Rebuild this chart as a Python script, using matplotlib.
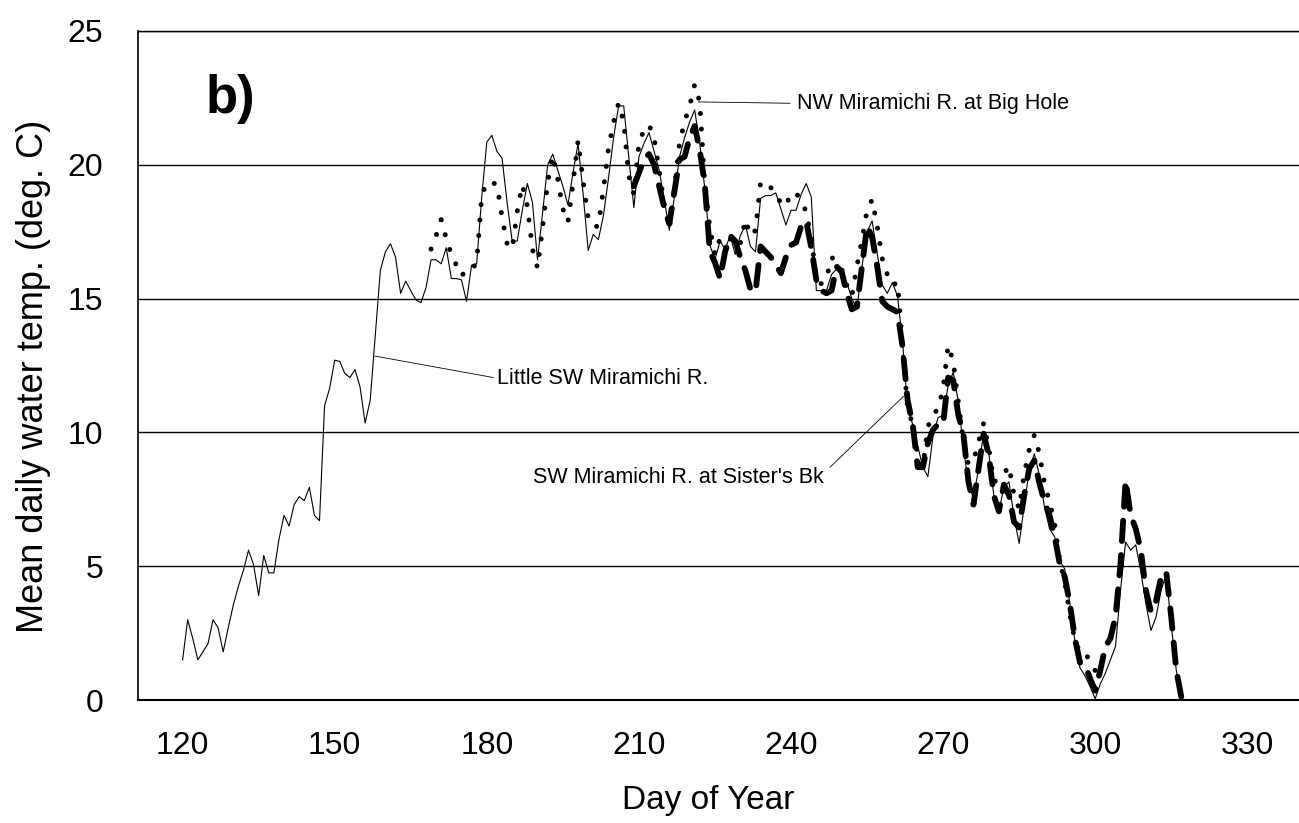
import numpy as np
import matplotlib.pyplot as plt

plt.rcParams['font.family'] = ['Liberation Sans', 'DejaVu Sans']

# ---------------------------
# daily mean water temperature (deg C)
# ---------------------------

# Little SW Miramichi R., days 120-317
little_sw_start = 120
little_sw = [
    1.5, 3.0, 2.3, 1.5, 1.8, 2.1, 3.0, 2.7, 1.8, 2.7,
    3.55, 4.25, 4.85, 5.6, 5.05, 3.9, 5.4, 4.75, 4.75, 6.0,
    6.9, 6.5, 7.3, 7.6, 7.45, 7.95, 6.9, 6.7, 11.0, 11.65,
    12.7, 12.65, 12.2, 12.05, 12.35, 11.7, 10.35, 11.2, 13.6, 16.05,
    16.75, 17.05, 16.55, 15.2, 15.65, 15.3, 14.95, 14.85, 15.4, 16.45,
    16.45, 16.3, 16.9, 15.75, 15.75, 15.7, 14.9, 16.25, 16.3, 18.8,
    20.85, 21.1, 20.5, 20.25, 18.6, 17.15, 17.15, 18.3, 19.3, 18.6,
    16.45, 18.2, 20.0, 20.4, 19.8, 19.2, 18.5, 19.7, 20.8, 18.9,
    16.8, 17.4, 17.2, 18.1, 19.5, 21.0, 22.2, 22.2, 20.3, 18.4,
    20.3, 20.8, 21.2, 20.5, 19.8, 18.7, 17.55, 18.8, 20.3, 21.0,
    21.6, 22.05, 20.8, 19.1, 17.0, 16.45, 17.15, 16.85, 17.35, 16.65,
    17.35, 17.75, 16.95, 16.75, 18.75, 18.85, 18.85, 18.95, 18.35, 17.75,
    18.3, 18.3, 18.9, 19.3, 18.8, 15.3, 15.3, 15.3, 15.9, 16.1,
    15.9, 15.6, 15.0, 14.6, 16.2, 17.5, 17.9, 16.7, 15.5, 15.2,
    15.6, 15.1, 13.4, 10.9, 10.3, 9.5, 8.7, 8.35, 9.85, 10.55,
    10.65, 11.75, 12.25, 11.15, 9.45, 8.05, 7.55, 8.65, 10.0, 9.25,
    7.65, 7.05, 7.95, 8.15, 6.85, 5.85, 7.25, 8.6, 9.2, 8.4,
    7.2, 6.4, 6.1, 5.2, 4.9, 3.6, 2.2, 1.2, 0.9, 0.5,
    0.05, 0.6, 1.0, 1.5, 2.0, 4.1, 5.9, 5.6, 5.8, 4.8,
    3.6, 2.6, 3.1, 4.1, 4.7, 2.8, 1.1, 0.1,
]

# NW Miramichi R. at Big Hole, days 169-300
nw_start = 169
nw_big_hole = [
    16.85, 17.35, 17.95, 17.25, 16.65, 16.25, 15.85, 16.05, 16.05, 16.35,
    18.85, 19.35, 19.35, 19.25, 18.05, 17.05, 16.85, 18.25, 19.25, 18.45,
    16.85, 16.15, 17.65, 19.35, 20.35, 19.45, 18.35, 17.85, 19.3, 20.9,
    19.4, 18.0, 17.7, 17.7, 19.1, 20.6, 21.6, 22.3, 21.6, 19.6,
    18.9, 20.8, 21.3, 21.5, 21.0, 19.8, 18.5, 17.6, 19.1, 20.8,
    21.6, 22.2, 23.0, 22.35, 19.25, 17.65, 16.65, 17.25, 17.35, 17.25,
    16.95, 17.05, 17.95, 17.35, 17.55, 19.35, 19.15, 19.15, 18.95, 18.55,
    18.45, 18.95, 18.95, 18.65, 18.25, 17.25, 15.75, 15.55, 15.75, 16.55,
    16.35, 16.1, 15.5, 15.1, 16.2, 17.2, 18.3, 18.7, 17.7, 16.5,
    15.9, 15.5, 15.6, 13.2, 10.9, 10.3, 9.1, 8.7, 10.2, 10.7,
    10.85, 11.65, 13.25, 12.65, 11.15, 9.65, 8.8, 8.95, 9.65, 10.35,
    9.45, 8.15, 8.25, 8.45, 8.75, 7.65, 7.15, 8.45, 9.35, 9.9,
    9.2, 8.1, 7.4, 6.6, 5.2, 4.4, 3.2, 2.2, 1.8, 1.8,
    1.4, 1.1,
]

# SW Miramichi R. at Sister's Bk, days 209-317
sw_start = 209
sw_sisters = [
    19.2, 19.7, 20.2, 20.4, 20.0, 19.2, 18.4, 17.8, 19.0, 20.2,
    20.3, 21.0, 21.45, 20.55, 19.25, 16.75, 16.35, 15.75, 16.75, 17.35,
    17.15, 16.55, 16.05, 15.35, 15.25, 16.95, 16.75, 16.55, 16.25, 15.95,
    16.55, 17.0, 17.1, 17.7, 17.9, 16.9, 15.7, 15.3, 15.2, 15.3,
    16.2, 16.0, 15.2, 14.6, 14.7, 16.2, 17.7, 17.3, 16.2, 14.9,
    14.7, 14.6, 14.5, 13.2, 11.2, 10.3, 8.7, 8.7, 9.6, 10.1,
    10.3, 10.3, 12.05, 11.95, 10.65, 9.95, 8.15, 7.3, 8.65, 9.95,
    9.15, 7.65, 7.05, 8.05, 7.65, 6.65, 6.45, 7.65, 8.65, 8.95,
    8.1, 7.4, 6.9, 6.1, 5.1, 4.6, 3.6, 2.3, 1.4, 1.3,
    0.8, 0.35, 1.1, 2.0, 2.3, 3.1, 5.1, 8.2, 6.9, 6.4,
    5.6, 4.1, 3.3, 3.7, 4.6, 4.8, 3.1, 1.1, 0.1,
]

x_ticks = [120, 150, 180, 210, 240, 270, 300, 330]
y_ticks = [0, 5, 10, 15, 20, 25]

days_little = np.arange(little_sw_start, little_sw_start + len(little_sw))
days_nw = np.arange(nw_start, nw_start + len(nw_big_hole))
days_sw = np.arange(sw_start, sw_start + len(sw_sisters))

# ---------------------------
# figure
# ---------------------------

fig = plt.figure(figsize=(12.99, 8.23), dpi=100)
ax = fig.add_axes([138 / 1299, 1 - 700 / 823, 1 - 138 / 1299, 669 / 823])

ax.plot(days_little, little_sw, color='black', lw=0.8, zorder=3)

ax.plot(days_nw, nw_big_hole, color='black', lw=3.6,
        linestyle=(0, (0.01, 3.1)), dash_capstyle='round', zorder=4)

ax.plot(days_sw, sw_sisters, color='black', lw=4.2,
        linestyle=(0, (3.5, 2.4)), dash_capstyle='round', zorder=5)

# series labels with leader lines
ax.plot([221.7, 239.8], [22.35, 22.3], color='black', lw=0.6)
ax.text(241.2, 22.3, 'NW Miramichi R. at Big Hole', fontsize=15.5,
        ha='left', va='center')

ax.plot([158.0, 181.3], [12.85, 12.05], color='black', lw=0.6)
ax.text(182.1, 12.0, 'Little SW Miramichi R.', fontsize=15.5,
        ha='left', va='center')

ax.plot([247.7, 262.2], [8.7, 11.35], color='black', lw=0.6)
ax.text(246.5, 8.3, "SW Miramichi R. at Sister's Bk", fontsize=15.5,
        ha='right', va='center')

ax.text(0.058, 0.877, 'b)', transform=ax.transAxes, fontsize=38,
        fontweight='bold', ha='left', va='baseline')

ax.set_xlim(111.2, 340.2)
ax.set_ylim(0, 25)
ax.set_xticks(x_ticks)
ax.set_yticks(y_ticks)
ax.tick_params(axis='both', length=0, labelsize=23)
ax.tick_params(axis='y', pad=25)
ax.tick_params(axis='x', pad=22)

ax.yaxis.grid(True, color='black', lw=1.0)
ax.set_axisbelow(True)
ax.spines['right'].set_visible(False)
ax.spines['left'].set_linewidth(1.2)
ax.spines['bottom'].set_linewidth(1.5)
ax.spines['top'].set_linewidth(1.0)

ax.set_xlabel('Day of Year', fontsize=24, va='center')
ax.xaxis.set_label_coords(0.491, -0.1495)
ax.set_ylabel('Mean daily water temp. (deg. C)', fontsize=26, va='center')
ax.yaxis.set_label_coords(-0.0904, 0.484)

fig.savefig('out.png', dpi=100)
